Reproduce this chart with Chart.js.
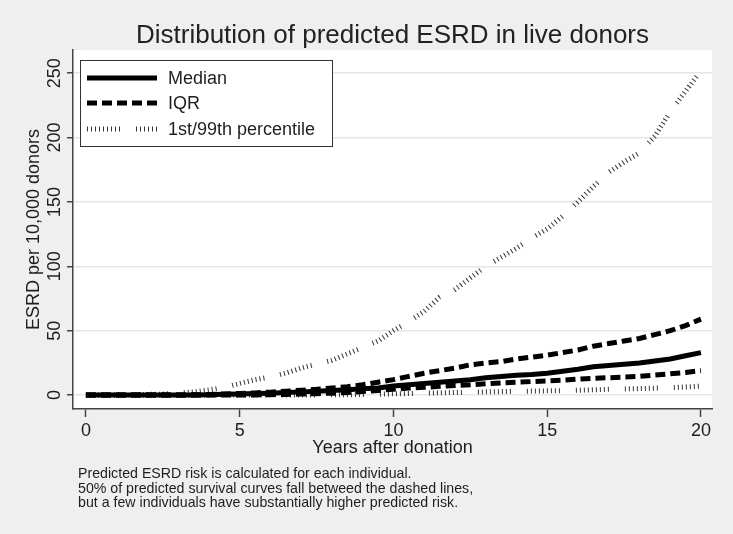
<!DOCTYPE html>
<html>
<head>
<meta charset="utf-8">
<script src="https://cdn.jsdelivr.net/npm/chart.js@4"></script>
<style>
  body { margin: 0; background: #efefef; }
  canvas { display: block; }
</style>
</head>
<body>
<canvas id="myChart" width="733" height="534"></canvas>
<script>
// years after donation
const years = [0,0.5,1,1.5,2,2.5,3,3.5,4,4.5,5,5.5,6,6.5,7,7.5,8,8.5,9,9.5,10,
  10.5,11,11.5,12,12.5,13,13.5,14,14.5,15,15.5,16,16.5,17,17.5,18,18.5,19,19.5,20]

// ESRD per 10,000 donors
const median = [0,0,0,0,0,0,0,0,0.3,0.6,0.9,1.2,1.5,2,2.5,3,3.5,4.2,5,5.5,7,
  8,9,10,11,12,13.5,14.5,15.5,16,17,18.5,20,22,23,24,25,26.5,28,30.5,33]
const iqrHi = [0,0,0,0,0,0,0,0.2,0.5,0.9,1.3,1.7,2.3,3,3.8,4.5,5.5,6.5,8,10,12,
  14.5,17,19,21,23.5,25,26,28,29.5,31,33,35,38,40,42,44,47,50,54,59]
const iqrLo = [0,0,0,0,0,0,0,0,0,0,0,0.1,0.3,0.5,0.8,1.1,1.5,2,2.8,3.6,4.5,
  5.5,6,6.8,7.5,8,8.8,9.5,10,10.5,11,11.5,12.5,13,13.5,14,14.5,15.5,16.5,17.5,19]
const p99 = [0,0,0.2,0.3,0.5,0.8,1.5,2.5,4,6,9,12,14,17,21,24,27,32,37,42,50,
  57,65,76,82,91,100,107,114,122,129,139,150,162,173,181,188,201,220,236,252]
const p1 = [0,0,0,0,0,0,0,0,0,0,0,0,0,0,0,0,0.2,0.3,0.5,0.7,1,
  1.2,1.5,1.8,2,2.2,2.5,2.7,3,3.1,3.3,3.5,3.8,4.1,4.5,4.8,5,5.4,5.8,6.3,7]

const xTicks = [0,5,10,15,20]
const yTicks = [0,50,100,150,200,250]

const titleText = 'Distribution of predicted ESRD in live donors'
const legendLabels = ['Median', 'IQR', '1st/99th percentile']
const noteLines = [
  'Predicted ESRD risk is calculated for each individual.',
  '50% of predicted survival curves fall betweed the dashed lines,',
  'but a few individuals have substantially higher predicted risk.'
]

const FONT = '"Liberation Sans", Arial, sans-serif'
const tickDash = [1,3,1,3,1,3,1,3,1,3,1,3,1,3,1,3,1,16]

function pts(arr) {
  return years.map(function(x, i) { return {x: x, y: arr[i]} })
}

const solid = {borderColor: '#000', borderWidth: 5, borderDash: []}
const dashed = {borderColor: '#000', borderWidth: 5, borderDash: [10,5]}
const dotted = {borderColor: '#333', borderWidth: 5, borderDash: tickDash}

let data = {
  datasets: [
    Object.assign({label: 'Median', data: pts(median)}, solid),
    Object.assign({label: 'IQR', data: pts(iqrHi)}, dashed),
    Object.assign({label: 'IQR low', data: pts(iqrLo)}, dashed),
    Object.assign({label: '99th', data: pts(p99)}, dotted),
    Object.assign({label: '1st', data: pts(p1)}, dotted)
  ]
}

// white plot region + figure background
const bgPlugin = {
  id: 'bg',
  beforeDraw: function(chart) {
    const ctx = chart.ctx, a = chart.chartArea
    ctx.save()
    ctx.fillStyle = '#efefef'
    ctx.fillRect(0, 0, chart.width, chart.height)
    ctx.fillStyle = '#ffffff'
    ctx.fillRect(a.left, a.top, a.right - a.left, a.bottom - a.top)
    ctx.restore()
  }
}

// title over plot region, boxed legend inside plot, note under the chart
const extrasPlugin = {
  id: 'extras',
  afterDraw: function(chart) {
    const ctx = chart.ctx, a = chart.chartArea
    ctx.save()
    ctx.fillStyle = '#222'
    ctx.font = '26px ' + FONT
    ctx.textAlign = 'center'
    ctx.textBaseline = 'middle'
    ctx.fillText(titleText, (a.left + a.right) / 2, 36)

    // legend box
    ctx.fillStyle = '#fff'
    ctx.fillRect(80, 60, 252, 86)
    ctx.strokeStyle = '#333'
    ctx.lineWidth = 1
    ctx.strokeRect(80.5, 60.5, 252, 86)
    const styles = [solid, dashed, dotted]
    const rows = [78, 103, 129]
    for (let i = 0; i < legendLabels.length; i++) {
      ctx.beginPath()
      ctx.lineWidth = styles[i].borderWidth
      ctx.strokeStyle = styles[i].borderColor
      ctx.setLineDash(styles[i].borderDash)
      ctx.moveTo(87, rows[i])
      ctx.lineTo(157, rows[i])
      ctx.stroke()
      ctx.setLineDash([])
      ctx.fillStyle = '#1e1e1e'
      ctx.font = '18px ' + FONT
      ctx.textBaseline = 'middle'
      ctx.textAlign = 'left'
      ctx.fillText(legendLabels[i], 168, rows[i] + 1)
    }
    // note
    ctx.font = '14.2px ' + FONT
    ctx.textBaseline = 'alphabetic'
    ctx.fillStyle = '#1e1e1e'
    for (let j = 0; j < noteLines.length; j++) {
      ctx.fillText(noteLines[j], 78, 478 + j * 14.5)
    }
    ctx.restore()
  }
}

let config = {
  type: 'line',
  data,
  options: {
    responsive: false,
    devicePixelRatio: 1,
    animation: false,
    layout: {padding: {left: 0, right: 21, top: 50, bottom: 75}},
    elements: {point: {radius: 0}, line: {tension: 0, borderCapStyle: 'butt', fill: false}},
    plugins: {
      legend: {display: false},
      tooltip: {enabled: false},
      title: {display: false}
    },
    scales: {
      x: {
        type: 'linear',
        min: -0.42,
        max: 20.36,
        afterBuildTicks: function(s) { s.ticks = xTicks.map(function(v) { return {value: v} }) },
        afterFit: function(s) { s.height = 50 },
        grid: {drawOnChartArea: false, tickLength: 8, tickColor: '#444', tickWidth: 1.5},
        border: {color: '#444', width: 1.5},
        ticks: {color: '#1e1e1e', padding: 3, font: {family: FONT, size: 18}, maxRotation: 0, autoSkip: false},
        title: {display: true, text: 'Years after donation', color: '#1e1e1e',
          font: {family: FONT, size: 18}, padding: {top: 0, bottom: 0}}
      },
      y: {
        type: 'linear',
        min: -10.8,
        max: 268,
        afterBuildTicks: function(s) { s.ticks = yTicks.map(function(v) { return {value: v} }) },
        afterFit: function(s) { s.width = 73 },
        grid: {color: '#e6e6e6', lineWidth: 1.5, tickLength: 6, tickColor: '#444', tickWidth: 1.5},
        border: {color: '#444', width: 1.5},
        ticks: {color: '#1e1e1e', padding: -3, crossAlign: 'center', minRotation: 90, maxRotation: 90,
          font: {family: FONT, size: 18}, autoSkip: false},
        title: {display: true, text: 'ESRD per 10,000 donors', color: '#1e1e1e',
          font: {family: FONT, size: 18}, padding: {top: 23, bottom: 0}}
      }
    }
  },
  plugins: [bgPlugin, extrasPlugin]
}

var chart = new Chart(document.getElementById('myChart'), config)
</script>
</body>
</html>
